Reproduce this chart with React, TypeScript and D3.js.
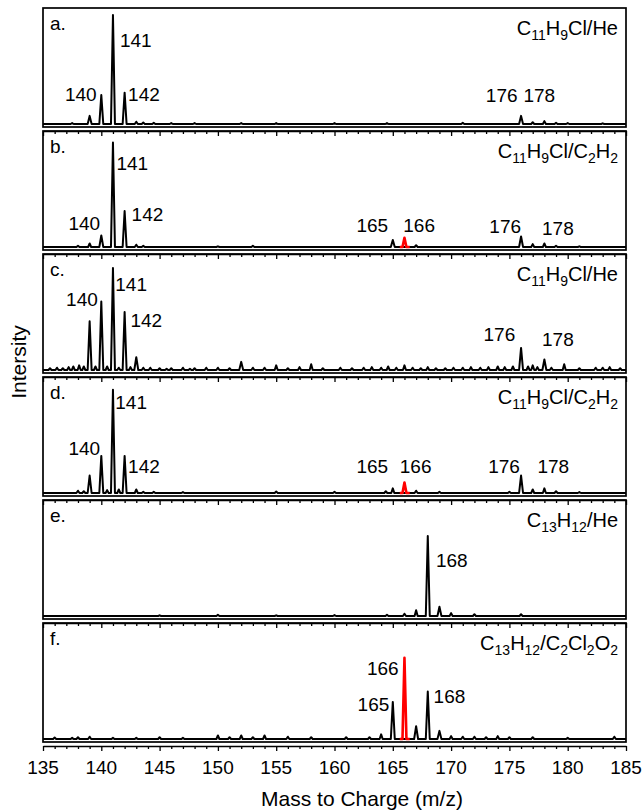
import React, { useRef, useEffect } from 'react';
import * as d3 from 'd3';

type Peak = [number, number]; // [m/z, intensity]
type Label = [string, number, number, 'start' | 'end' | 'middle']; // text, m/z, intensity, anchor

const panelTags = ['a.', 'b.', 'c.', 'd.', 'e.', 'f.'];
const panelGases = ['C11H9Cl/He', 'C11H9Cl/C2H2', 'C11H9Cl/He', 'C11H9Cl/C2H2', 'C13H12/He', 'C13H12/C2Cl2O2'];

// main peaks (black)
const peaksA: Peak[] = [[139, 7], [140, 25], [141, 94], [142, 27], [143, 2], [176, 7], [177, 1.5], [178, 2.5]];
const peaksB: Peak[] = [[139, 3], [140, 10], [141, 90], [142, 31], [143, 2], [165, 6], [176, 9], [177, 2.5], [178, 3]];
const peaksC: Peak[] = [[139, 42], [140, 59], [141, 88], [142, 50], [143, 11], [176, 19], [177, 4], [178, 9]];
const peaksD: Peak[] = [[139, 15], [140, 32], [141, 89], [142, 32], [143, 3], [165, 4], [176, 15], [177, 3], [178, 4]];
const peaksE: Peak[] = [[166, 2], [167, 5], [168, 69], [169, 8], [170, 2.5]];
const peaksF: Peak[] = [[164, 4], [165, 32], [167, 11], [168, 41], [169, 7]];

// small background bumps
const noiseA: Peak[] = [[137.5, 0.8], [143.6, 1.2], [144.5, 1], [146, 0.8], [148, 0.8], [152, 0.8], [155, 0.8], [160, 0.8], [164.5, 0.8], [171, 1], [179, 1], [180, 0.8], [183, 0.6]];
const noiseB: Peak[] = [[138, 1], [143.6, 1], [150, 0.6], [153, 1], [167, 1.5], [179, 1], [181, 0.6]];
const noiseC: Peak[] = [
  [135.6, 1.5], [136.2, 2], [136.7, 1.5], [137.2, 2.5], [137.6, 3], [138.1, 4], [138.5, 3], [139.5, 3], [140.5, 3],
  [141.5, 2], [142.5, 2.5], [143.6, 2], [144.2, 2], [145, 1.5], [145.6, 1], [146, 1.5], [147, 2], [147.6, 1], [148, 1.5],
  [149, 2], [150, 2], [151, 1.5], [152, 7], [153, 2], [154, 2], [155, 4], [156, 1.5], [157, 2.5], [158, 5], [159, 1.5],
  [160.5, 2], [161.5, 1.5], [162.5, 2], [163.2, 2.5], [164, 2], [164.6, 3], [165.3, 2], [166, 4], [166.7, 2], [167.4, 1.5],
  [168, 2.5], [168.7, 1.5], [169.5, 1.5], [170.2, 2], [171, 2], [171.7, 2.5], [172.5, 2], [173.2, 2.5], [174, 3],
  [174.6, 2.5], [175.3, 3], [176.6, 3], [177.4, 2.5], [178.6, 2], [179.7, 5], [181, 1.5], [182.4, 2], [183, 2],
  [183.6, 2.5], [184.5, 1.5]
];
const noiseD: Peak[] = [[138, 2], [138.5, 1.5], [140.5, 2.5], [141.5, 3], [143.6, 1], [144.5, 1], [147, 0.8], [155, 1.2], [160, 1], [164.4, 1.5], [167, 2], [169, 1], [175, 1], [179, 1.5], [181, 0.8]];
const noiseE: Peak[] = [[145, 0.6], [150, 1], [155, 0.6], [160, 0.8], [164.5, 1], [172, 1.5], [176, 1.5]];
const noiseF: Peak[] = [
  [136, 1.2], [137.5, 1], [138, 1.5], [139, 2], [141, 1], [143, 1], [145, 1.5], [147, 1], [150, 3], [151, 1.5], [152, 3],
  [153, 1.5], [154, 3], [156, 2], [158, 1.5], [161, 1.5], [163, 1.5], [170, 2.5], [171, 2], [172, 2], [173, 1.5],
  [174, 2.5], [175, 1.5], [177, 1.5], [180, 1], [184, 2]
];

// the m/z 166 product peak, drawn in red
const redPeaks: (Peak | null)[] = [null, [166, 8], null, [166, 9], null, [166, 70]];

const labelsA: Label[] = [['141', 141.6, 66, 'start'], ['140', 139.6, 20, 'end'], ['142', 142.3, 20, 'start'], ['176', 175.7, 19, 'end'], ['178', 176.2, 19, 'start']];
const labelsB: Label[] = [['141', 141.3, 66, 'start'], ['140', 139.9, 15, 'end'], ['142', 142.6, 22, 'start'], ['165', 164.6, 13, 'end'], ['166', 165.9, 13, 'start'], ['176', 176.0, 12, 'end'], ['178', 177.8, 10, 'start']];
const labelsC: Label[] = [['141', 141.2, 68, 'start'], ['140', 139.7, 55, 'end'], ['142', 142.5, 37, 'start'], ['176', 175.5, 25, 'end'], ['178', 177.8, 21, 'start']];
const labelsD: Label[] = [['141', 141.2, 72, 'start'], ['140', 139.9, 33, 'end'], ['142', 142.3, 17, 'start'], ['165', 164.6, 17, 'end'], ['166', 165.6, 17, 'start'], ['176', 175.9, 17, 'end'], ['178', 177.4, 17, 'start']];
const labelsE: Label[] = [['168', 168.7, 42, 'start']];
const labelsF: Label[] = [['166', 165.5, 55, 'end'], ['165', 164.7, 24, 'end'], ['168', 168.5, 31, 'start']];

const panelPeaks = [peaksA, peaksB, peaksC, peaksD, peaksE, peaksF];
const panelNoise = [noiseA, noiseB, noiseC, noiseD, noiseE, noiseF];
const panelLabels = [labelsA, labelsB, labelsC, labelsD, labelsE, labelsF];

const xTicks = d3.range(135, 186, 5);

const W = 642;
const H = 812;
const FONT = 'Arial, "Liberation Sans", Helvetica, sans-serif';

function spectrumPoints(peaks: Peak[], from: number, to: number): [number, number][] {
  const sorted = [...peaks].sort((p, q) => p[0] - q[0]);
  const pts: [number, number][] = [[from, 0]];
  sorted.forEach(([m, h]) => {
    const w = h > 5 ? 0.17 : 0.13;
    pts.push([m - w, 0], [m, h], [m + w, 0]);
  });
  pts.push([to, 0]);
  return pts;
}

const App: React.FC = () => {
  const svgRef = useRef<SVGSVGElement | null>(null);

  useEffect(() => {
    if (!svgRef.current) return;
    const svg = d3.select(svgRef.current);
    svg.selectAll('*').remove();

    const left = 43;
    const right = 626;
    const top0 = 8;
    const pitch = 123;
    const boxH = 119;

    const x = d3.scaleLinear().domain([135, 185]).range([left, right]);

    panelTags.forEach((tag, i) => {
      const top = top0 + i * pitch;
      const bottom = top + boxH;
      const y = d3.scaleLinear().domain([0, 100]).range([bottom - 3, top]);
      const g = svg.append('g');

      const line = d3.line<[number, number]>()
        .x(d => x(d[0]))
        .y(d => y(d[1]));

      const all = panelPeaks[i].concat(panelNoise[i]);
      g.append('path')
        .attr('d', line(spectrumPoints(all, 135, 185)))
        .attr('fill', 'none')
        .attr('stroke', '#000')
        .attr('stroke-width', 2)
        .attr('stroke-linejoin', 'round');

      const red = redPeaks[i];
      if (red) {
        g.append('path')
          .attr('d', line(spectrumPoints([red], red[0] - 0.4, red[0] + 0.45)))
          .attr('fill', 'none')
          .attr('stroke', '#ff0000')
          .attr('stroke-width', 2.6)
          .attr('stroke-linejoin', 'round');
      }

      // frame
      g.append('rect')
        .attr('x', left)
        .attr('y', top)
        .attr('width', right - left)
        .attr('height', boxH)
        .attr('fill', 'none')
        .attr('stroke', '#000')
        .attr('stroke-width', 1.7);

      // bottom axis, offset below the frame
      const axisY = top + pitch;
      const last = i === panelTags.length - 1;
      const ax = g.append('g')
        .attr('transform', `translate(0,${axisY})`)
        .call(
          d3.axisBottom(x)
            .tickValues(d3.range(135, 186, 1))
            .tickSize(3)
            .tickSizeOuter(0)
            .tickFormat(() => '')
        );
      ax.select('.domain').attr('stroke-width', 1.7);
      ax.selectAll('.tick line').attr('stroke-width', 1.3);
      ax.selectAll<SVGGElement, number>('.tick')
        .filter(d => (d - 135) % 5 === 0)
        .select('line')
        .attr('y2', 5);

      if (last) {
        g.append('g')
          .selectAll('text')
          .data(xTicks)
          .enter()
          .append('text')
          .attr('x', d => x(d))
          .attr('y', axisY + 28)
          .attr('text-anchor', 'middle')
          .attr('font-family', FONT)
          .attr('font-size', 19)
          .text(d => d);
      }

      // panel tag
      g.append('text')
        .attr('x', left + 7)
        .attr('y', top + 22)
        .attr('font-family', FONT)
        .attr('font-size', 19)
        .text(tag);

      // gas label with subscripts
      const gas = g.append('text')
        .attr('x', right - 8)
        .attr('y', top + 27)
        .attr('text-anchor', 'end')
        .attr('font-family', FONT)
        .attr('font-size', 20);
      const parts = panelGases[i].match(/(\d+|[^\d]+)/g) || [];
      let shifted = false;
      parts.forEach(p => {
        const isSub = /^\d+$/.test(p);
        const ts = gas.append('tspan').text(p);
        if (isSub) {
          ts.attr('font-size', 14).attr('dy', shifted ? 0 : 5);
          shifted = true;
        } else {
          ts.attr('dy', shifted ? -5 : 0);
          shifted = false;
        }
      });

      // peak labels
      g.append('g')
        .selectAll('text')
        .data(panelLabels[i])
        .enter()
        .append('text')
        .attr('x', d => x(d[1]))
        .attr('y', d => y(d[2]))
        .attr('text-anchor', d => d[3])
        .attr('font-family', FONT)
        .attr('font-size', 19)
        .text(d => d[0]);
    });

    svg.append('text')
      .attr('x', 362)
      .attr('y', 806)
      .attr('text-anchor', 'middle')
      .attr('font-family', FONT)
      .attr('font-size', 21)
      .text('Mass to Charge (m/z)');

    svg.append('text')
      .attr('transform', 'translate(26,362) rotate(-90)')
      .attr('text-anchor', 'middle')
      .attr('font-family', FONT)
      .attr('font-size', 21)
      .text('Intersity');
  }, []);

  return (
    <svg
      ref={svgRef}
      width={W}
      height={H}
      style={{ position: 'absolute', left: 0, top: 0, background: '#fff' }}
    />
  );
};

export default App;
